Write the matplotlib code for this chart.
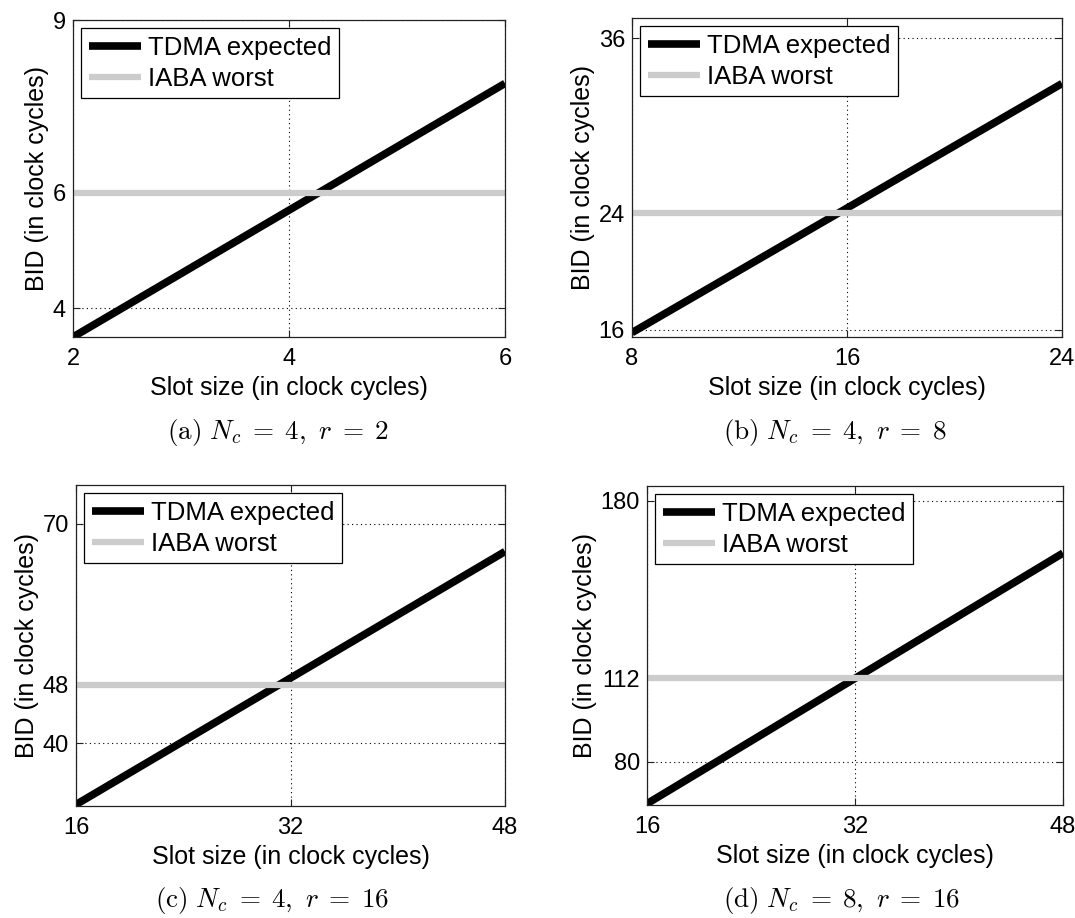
import matplotlib.pyplot as plt

plt.rcParams['font.family'] = ['Liberation Sans', 'DejaVu Sans']
plt.rcParams['mathtext.fontset'] = 'cm'

# slot sizes (x range) per panel
slot_a = [2, 6]
slot_b = [8, 24]
slot_c = [16, 48]
slot_d = [16, 48]

# TDMA expected BID at the two ends of the slot range
tdma_a = [3.5, 7.9]
tdma_b = [15.8, 32.9]
tdma_c = [31.6, 66.2]
tdma_d = [64, 160]

# IABA worst-case BID (constant)
iaba_a = 6
iaba_b = 24
iaba_c = 48
iaba_d = 112

xticks_a = [2, 4, 6]
xticks_b = [8, 16, 24]
xticks_c = [16, 32, 48]
xticks_d = [16, 32, 48]

yticks_a = [4, 6, 9]
yticks_b = [16, 24, 36]
yticks_c = [40, 48, 70]
yticks_d = [80, 112, 180]

ylim_a = (3.5, 9)
ylim_b = (15.5, 37.4)
ylim_c = (31.4, 75.3)
ylim_d = (63.5, 185.7)

captions = [r'$\mathrm{(a)}\ N_c\;=\;4,\ r\;=\;2$',
            r'$\mathrm{(b)}\ N_c\;=\;4,\ r\;=\;8$',
            r'$\mathrm{(c)}\ N_c\;=\;4,\ r\;=\;16$',
            r'$\mathrm{(d)}\ N_c\;=\;8,\ r\;=\;16$']

W, H = 1075, 918
fig = plt.figure(figsize=(W / 100, H / 100), dpi=100)

# axes boxes in pixels: left, top, right, bottom
boxes = [(73, 20, 505, 337), (632, 18, 1062, 337),
         (76, 485, 505, 806), (647, 486, 1063, 805)]
caption_pos = [(278, 432), (835, 432), (272, 900), (842, 900)]

panels = [(slot_a, tdma_a, iaba_a, xticks_a, yticks_a, ylim_a),
          (slot_b, tdma_b, iaba_b, xticks_b, yticks_b, ylim_b),
          (slot_c, tdma_c, iaba_c, xticks_c, yticks_c, ylim_c),
          (slot_d, tdma_d, iaba_d, xticks_d, yticks_d, ylim_d)]

for i, (slot, tdma, iaba, xt, yt, yl) in enumerate(panels):
    l, t, r, b = boxes[i]
    ax = fig.add_axes([l / W, 1 - b / H, (r - l) / W, (b - t) / H])
    ax.plot(slot, tdma, color='black', lw=5.5, solid_capstyle='butt',
            label='TDMA expected')
    ax.plot(slot, [iaba, iaba], color='#cccccc', lw=4.5,
            solid_capstyle='butt', label='IABA worst')
    ax.set_xlim(slot)
    ax.set_ylim(yl)
    ax.set_xticks(xt)
    ax.set_yticks(yt)
    ax.grid(True, color='black', linestyle=(0, (1, 3)), linewidth=0.8)
    ax.tick_params(direction='in', top=True, right=True, length=5,
                   labelsize=17, color='#222222')
    ax.tick_params(axis='x', pad=8)
    ax.tick_params(axis='y', pad=5)
    for s in ax.spines.values():
        s.set_linewidth(0.9)
        s.set_color('#222222')
    ax.set_xlabel('Slot size (in clock cycles)', fontsize=18, labelpad=4)
    ax.set_ylabel('BID (in clock cycles)', fontsize=18, labelpad=3)
    leg = ax.legend(loc='upper left', fontsize=18.5, handlelength=2.0,
                    handletextpad=0.3, borderaxespad=0.33, labelspacing=0.25,
                    fancybox=False, framealpha=1, edgecolor='black',
                    borderpad=0.3)
    leg.get_frame().set_linewidth(0.9)
    cx, cy = caption_pos[i]
    fig.text(cx / W, 1 - cy / H, captions[i], ha='center', va='center',
             fontsize=19.5)

fig.savefig('out.png', dpi=100)
